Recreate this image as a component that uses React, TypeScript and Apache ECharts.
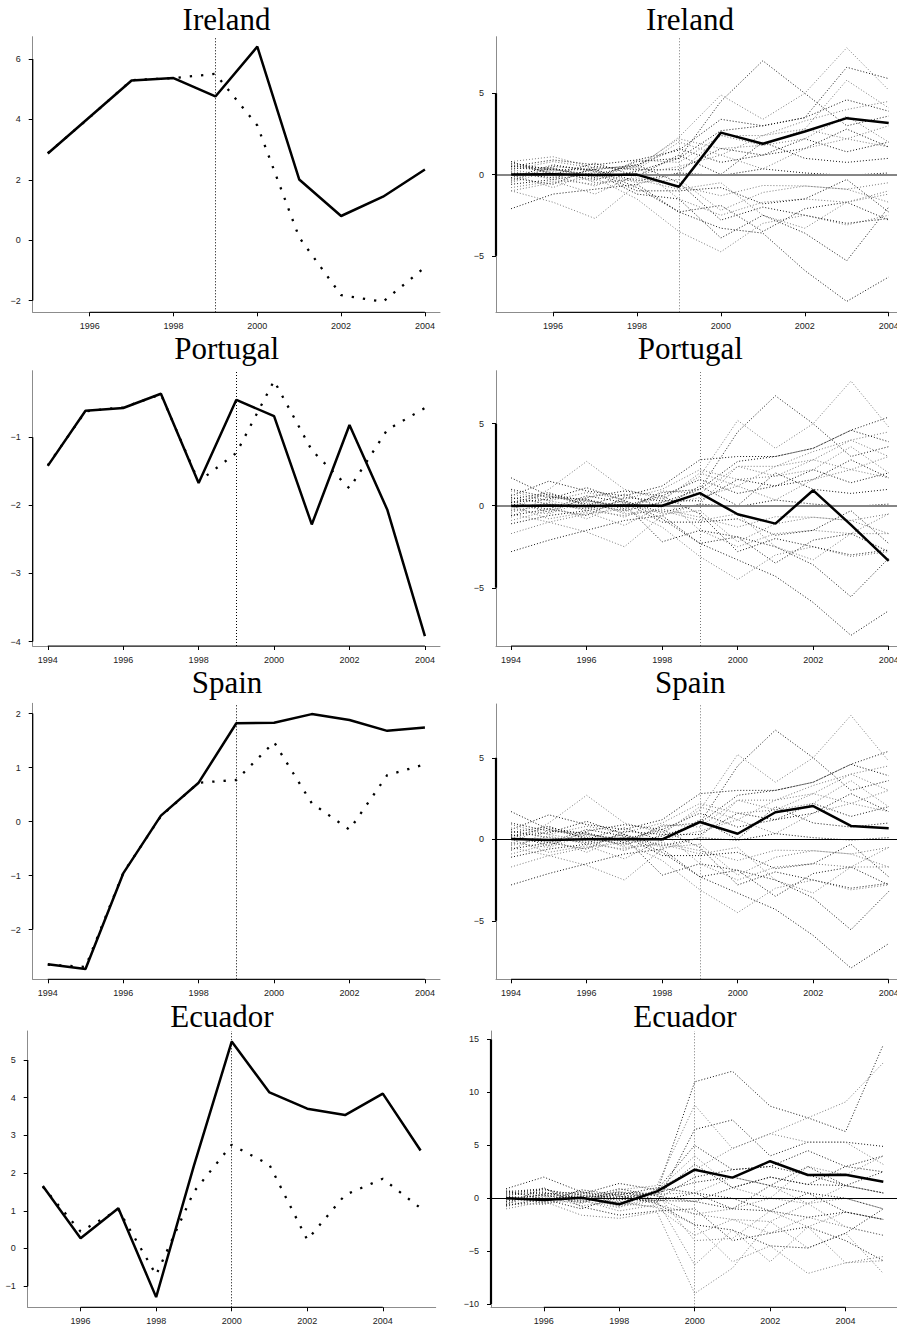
import React, { useEffect, useRef } from "react";
import * as echarts from "echarts";

// ---------- categories ----------
const irelandYears = [1995, 1996, 1997, 1998, 1999, 2000, 2001, 2002, 2003, 2004];
const iberiaYears = [1994, 1995, 1996, 1997, 1998, 1999, 2000, 2001, 2002, 2003, 2004];
const ecuadorYears = [1995, 1996, 1997, 1998, 1999, 2000, 2001, 2002, 2003, 2004, 2005];

// ---------- left panels: actual (solid) vs synthetic (dotted) ----------
const irelandActual = [2.87, 4.08, 5.29, 5.37, 4.76, 6.41, 2.01, 0.8, 1.44, 2.34];
const irelandSynthetic = [2.88, 4.07, 5.3, 5.37, 5.51, 3.8, 0.09, -1.82, -2.04, -0.9];
const portugalActual = [-1.42, -0.61, -0.57, -0.36, -1.67, -0.45, -0.69, -2.28, -0.82, -2.06, -3.92];
const portugalSynthetic = [-1.41, -0.62, -0.56, -0.37, -1.65, -1.23, -0.17, -1.19, -1.75, -0.89, -0.57];
const spainActual = [-2.64, -2.73, -0.96, 0.11, 0.72, 1.82, 1.83, 1.99, 1.88, 1.68, 1.74];
const spainSynthetic = [-2.65, -2.69, -0.95, 0.1, 0.72, 0.77, 1.47, 0.34, -0.15, 0.86, 1.06];
const ecuadorActual = [1.66, 0.27, 1.07, -1.29, 2.2, 5.49, 4.14, 3.71, 3.54, 4.11, 2.6];
const ecuadorSynthetic = [1.64, 0.45, 1.03, -0.7, 1.51, 2.75, 2.22, 0.23, 1.42, 1.85, 1.07];

// ---------- right panels: gap of treated unit (bold) ----------
const irelandGap = [0.0, 0.02, -0.02, 0.0, -0.75, 2.58, 1.9, 2.65, 3.47, 3.17];
const portugalGap = [-0.01, 0.01, -0.01, 0.01, 0.0, 0.77, -0.52, -1.09, 0.94, -1.17, -3.36];
const spainGap = [0.02, -0.05, 0.0, 0.01, 0.0, 1.06, 0.34, 1.66, 2.04, 0.82, 0.68];
const ecuadorGap = [0.0, -0.17, 0.05, -0.57, 0.65, 2.7, 1.95, 3.5, 2.2, 2.22, 1.55];

// ---------- right panels: placebo gaps (dotted) ----------
const irelandPlacebos = [
  [0.6, 0.1, -0.3, 0.2, 1.0, 4.5, 7.0, 5.0, 3.0, 3.6],
  [0.8, 1.1, 0.4, 0.4, 2.3, 4.9, 3.4, 5.0, 7.8, 5.2],
  [0.5, 0.9, 0.6, 0.9, 1.5, 3.4, 3.0, 3.5, 6.6, 5.9],
  [-1.0, -1.7, -2.7, -0.6, 0.1, 2.4, 2.4, 2.8, 5.8, 4.1],
  [-2.1, -1.2, -0.9, -0.6, -2.3, -3.3, -3.6, -5.9, -7.8, -6.3],
  [-1.0, -0.5, -0.2, -1.5, -3.5, -4.75, -3.0, -2.5, -3.1, -2.5],
  [-0.6, -0.3, 0.1, -1.2, -1.5, -3.9, -2.5, -3.6, -5.3, -2.0],
  [0.3, 0.8, 0.4, 0.5, 2.2, 1.6, 1.8, 2.2, 3.6, 2.0],
  [-0.4, 0.5, 0.3, 0.6, 1.6, 0.75, 1.2, 1.6, 2.8, 1.7],
  [0.2, -0.3, -0.6, -0.2, -0.7, -1.3, -0.67, -0.7, -0.9, -0.5],
  [0.4, 0.3, 0.3, -0.4, 0.1, -0.06, 0.35, 0.1, -0.05, 0.1],
  [-0.5, 0.3, -0.1, 0.5, -1.5, -2.5, -1.7, -1.5, -1.7, -1.0],
  [0.1, -0.2, 0.3, -0.8, -2.3, -1.9, -3.5, -2.1, -1.7, -2.8],
  [0.6, 0.2, -0.4, 0.9, 0.75, 2.4, 1.8, 2.8, 2.2, 3.0],
  [-0.2, -0.6, 0.5, 0.3, 0.3, 1.6, 1.2, 2.2, 1.4, 2.0],
  [-0.3, 0.4, -0.5, -0.3, -0.9, -0.5, -2.5, -3.3, -1.7, -1.2],
  [0.8, 0.0, 0.7, -0.1, 1.2, 0.0, 2.0, 1.0, 0.75, 1.0],
  [0.0, -0.8, 0.2, -0.5, -0.3, -2.2, -1.1, -0.7, -0.9, -1.7],
  [0.5, 0.4, -0.2, 0.8, 1.0, 2.7, 3.0, 3.5, 4.6, 3.9],
  [-0.8, -0.4, -1.2, 0.0, 0.5, 1.2, 0.35, 1.6, 2.2, 1.7],
  [-0.2, 0.6, 0.2, -1.0, -1.0, -0.8, -1.8, -1.5, -0.3, -2.3],
  [0.3, -0.1, -0.7, 0.3, 2.0, 1.2, 2.4, 3.3, 4.0, 4.5],
  [0.7, 0.3, 0.0, 0.6, -0.5, -2.8, -2.0, -2.5, -3.0, -2.7],
];

const iberiaPlacebos = [
  [1.7, 0.6, 0.1, -0.3, 0.2, 1.0, 4.5, 6.7, 5.0, 3.0, 3.6],
  [-0.3, 1.0, 2.7, 1.0, 0.4, 1.8, 5.2, 3.5, 5.0, 7.6, 4.8],
  [0.6, 1.5, 0.9, 0.6, 1.2, 2.8, 3.0, 3.0, 3.5, 4.6, 5.4],
  [-0.5, -1.0, -1.6, -2.5, -0.6, 0.1, 2.4, 2.4, 2.8, 4.0, 3.0],
  [-2.8, -2.1, -1.5, -0.9, -0.6, -2.3, -3.3, -4.3, -5.9, -7.9, -6.4],
  [-1.7, -1.0, -0.5, -0.2, -1.3, -3.1, -4.5, -3.0, -2.5, -3.1, -2.8],
  [-1.1, -0.6, -0.3, 0.1, -2.2, -1.5, -1.9, -2.5, -3.6, -5.55, -3.2],
  [0.9, 0.3, 0.8, 0.4, 1.0, 2.2, 1.6, 1.8, 2.2, 3.6, 2.0],
  [0.3, -0.4, 0.5, 0.9, 0.6, 1.6, 0.75, 1.2, 1.6, 2.8, 1.7],
  [-0.4, 0.2, -0.3, -0.6, -0.2, -0.7, -1.3, -0.67, -0.7, -0.9, -0.5],
  [0.2, 0.4, 1.1, 0.3, -0.4, 0.1, -0.06, 0.35, 0.1, -0.05, 0.1],
  [-0.2, -0.5, 0.3, -0.1, 0.5, -1.5, -2.5, -1.7, -1.5, -1.7, -1.7],
  [0.5, 0.1, -0.2, 0.3, -0.8, -2.3, -1.9, -3.5, -2.1, -1.7, -2.8],
  [-0.7, 0.6, 0.2, -0.4, 0.9, 0.75, 2.4, 1.8, 2.8, 2.2, 3.0],
  [0.1, -0.2, -0.6, 0.5, 0.3, 0.3, 1.6, 1.2, 2.2, 1.4, 2.0],
  [-0.9, -0.3, 0.4, -0.5, -0.3, -0.9, -0.5, -2.5, -3.3, -1.7, -0.5],
  [0.4, 0.8, 0.0, 0.7, -0.1, 1.2, 0.0, 2.0, 1.0, 0.75, 1.0],
  [-0.3, 0.0, -0.8, 0.2, -0.5, -0.3, -2.2, -1.1, -0.7, -0.9, -1.7],
  [1.0, 0.5, 0.4, -0.2, 0.8, 1.0, 2.7, 3.0, 3.5, 4.6, 3.9],
  [0.0, -0.8, -0.4, -1.2, 0.0, 0.5, 1.2, 0.35, 1.6, 2.2, 1.7],
  [-0.6, -0.2, 0.6, 0.2, -1.0, -1.0, -0.8, -1.8, -1.5, -0.3, -2.3],
  [0.7, 0.3, -0.1, -0.7, 0.3, 2.0, 1.2, 2.4, 3.3, 4.0, 4.5],
  [0.2, 0.7, 0.3, 0.0, 0.6, -0.5, -2.8, -2.0, -2.5, -3.0, -2.7],
];

const ecuadorPlacebos = [
  [0.5, 0.8, 0.3, -0.2, 0.6, 11.0, 12.0, 8.7, 7.6, 6.3, 14.5],
  [-0.3, 0.4, -0.5, 0.8, 1.2, 8.8, 4.7, 6.1, 7.6, 9.1, 12.8],
  [0.9, 2.0, 0.6, 0.2, -0.4, 6.5, 7.4, 4.0, 5.3, 5.3, 4.9],
  [-1.0, -0.3, -1.6, -1.9, -1.3, -9.0, -6.6, -2.2, -4.7, -3.3, -7.1],
  [0.2, -0.2, 0.4, 1.4, 0.8, 5.0, 2.7, 3.0, 4.5, 3.0, 4.0],
  [-0.6, -0.5, 0.1, -0.8, -0.2, -6.3, -3.0, -6.0, -2.7, -6.1, -5.9],
  [0.4, 0.6, -0.3, 0.5, 0.3, 3.2, 1.0, 2.0, 1.3, 1.2, 2.5],
  [-0.2, 0.1, 0.5, -0.5, -0.8, -2.5, -6.0, -4.5, -7.1, -6.1, -5.5],
  [0.7, -0.1, 0.2, 0.1, 0.5, 1.5, 2.0, 1.2, 3.0, 1.2, 0.5],
  [-0.5, 0.3, -0.2, -1.2, -0.6, -1.5, -1.0, 0.0, -0.5, 0.0, -1.0],
  [0.1, -0.4, 0.8, 0.3, 1.0, 0.5, 0.0, -1.2, 0.5, -1.3, -2.0],
  [-0.8, 0.2, -0.7, -0.3, -0.9, -3.5, -2.0, -3.3, -1.8, -2.7, -3.5],
  [0.3, 0.5, 0.0, 0.9, 0.2, -0.3, 1.0, 2.0, 1.3, 3.0, 2.5],
  [-0.4, -0.6, 0.3, -0.4, 0.4, -4.0, -3.8, -1.2, -2.7, -1.3, -2.0],
  [0.6, 0.9, -0.1, 0.6, -0.1, 2.0, 2.7, 3.0, 2.2, 1.2, 0.5],
  [-0.1, -0.2, 0.1, -0.7, 0.0, -1.5, -2.0, -2.2, -0.5, -2.7, -3.5],
  [0.0, 0.3, -0.4, 0.4, -0.3, 0.5, -1.0, 1.2, 0.5, 0.0, -1.0],
  [0.8, 0.2, 0.5, 0.0, 0.7, 4.0, 1.0, 0.0, 3.0, 2.2, 4.0],
  [-0.7, -0.1, -1.0, 0.2, -0.5, -2.5, -3.0, -4.5, -4.7, -3.3, -1.0],
  [0.3, -0.3, 0.2, 0.6, 0.4, 0.5, 2.0, 1.2, -0.5, 1.2, 0.5],
  [-0.3, 0.4, 0.6, -0.1, -0.2, -0.3, -1.0, -1.2, -1.8, -1.3, -2.0],
  [0.1, -0.5, -0.2, -0.9, 0.9, 2.7, 4.7, 6.1, 5.3, 5.3, 3.2],
  [-0.6, 1.0, -0.8, -1.6, -1.2, -1.0, -4.0, -3.3, -2.7, -4.0, -5.9],
];

// ---------- tick labels ----------
const ticksEvenFrom1996 = [1996, 1998, 2000, 2002, 2004];
const ticksEvenFrom1994 = [1994, 1996, 1998, 2000, 2002, 2004];
const irelandLeftYTicks = [-2, 0, 2, 4, 6];
const portugalLeftYTicks = [-4, -3, -2, -1];
const spainLeftYTicks = [-2, -1, 0, 1, 2];
const ecuadorLeftYTicks = [-1, 0, 1, 2, 3, 4, 5];
const gapYTicks = [-5, 0, 5];
const ecuadorGapYTicks = [-10, -5, 0, 5, 10, 15];

type Panel = {
  title: string;
  kind: "left" | "right";
  grid: [number, number, number, number];
  titlePos: [number, number];
  years: number[];
  xRange: [number, number];
  yRange: [number, number];
  xTicks: number[];
  yTicks: number[];
  treat: number;
  actual?: number[];
  synthetic?: number[];
  gap?: number[];
  placebos?: number[][];
  zeroStyle?: { color: string; width: number };
};

const panels: Panel[] = [
  {
    title: "Ireland", kind: "left", grid: [32.7, 36.7, 407.3, 275.6], titlePos: [226.5, 19.3],
    years: irelandYears, xRange: [1994.64, 2004.36], yRange: [-2.39, 6.74],
    xTicks: ticksEvenFrom1996, yTicks: irelandLeftYTicks, treat: 1999,
    actual: irelandActual, synthetic: irelandSynthetic,
  },
  {
    title: "Ireland", kind: "right", grid: [496, 36.7, 407.8, 275.6], titlePos: [690, 19.3],
    years: irelandYears, xRange: [1994.64, 2004.36], yRange: [-8.47, 8.48],
    xTicks: ticksEvenFrom1996, yTicks: gapYTicks, treat: 1999,
    gap: irelandGap, placebos: irelandPlacebos, zeroStyle: { color: "#858585", width: 1.8 },
  },
  {
    title: "Portugal", kind: "left", grid: [32.7, 370.7, 407.3, 275.3], titlePos: [226.7, 348.3],
    years: iberiaYears, xRange: [1993.6, 2004.4], yRange: [-4.065, -0.022],
    xTicks: ticksEvenFrom1994, yTicks: portugalLeftYTicks, treat: 1999,
    actual: portugalActual, synthetic: portugalSynthetic,
  },
  {
    title: "Portugal", kind: "right", grid: [496, 370.7, 407.8, 275.3], titlePos: [690.3, 348.3],
    years: iberiaYears, xRange: [1993.6, 2004.4], yRange: [-8.55, 8.23],
    xTicks: ticksEvenFrom1994, yTicks: gapYTicks, treat: 1999,
    gap: portugalGap, placebos: iberiaPlacebos, zeroStyle: { color: "#858585", width: 1.8 },
  },
  {
    title: "Spain", kind: "left", grid: [32.7, 703.3, 407.3, 276], titlePos: [227, 682.3],
    years: iberiaYears, xRange: [1993.6, 2004.4], yRange: [-2.92, 2.19],
    xTicks: ticksEvenFrom1994, yTicks: spainLeftYTicks, treat: 1999,
    actual: spainActual, synthetic: spainSynthetic,
  },
  {
    title: "Spain", kind: "right", grid: [496, 704, 407.8, 275.3], titlePos: [690.2, 682.3],
    years: iberiaYears, xRange: [1993.6, 2004.4], yRange: [-8.59, 8.3],
    xTicks: ticksEvenFrom1994, yTicks: gapYTicks, treat: 1999,
    gap: spainGap, placebos: iberiaPlacebos, zeroStyle: { color: "#000", width: 1 },
  },
  {
    title: "Ecuador", kind: "left", grid: [27.7, 1031, 408, 276.3], titlePos: [222, 1016],
    years: ecuadorYears, xRange: [1994.6, 2005.4], yRange: [-1.56, 5.77],
    xTicks: ticksEvenFrom1996, yTicks: ecuadorLeftYTicks, treat: 2000,
    actual: ecuadorActual, synthetic: ecuadorSynthetic,
  },
  {
    title: "Ecuador", kind: "right", grid: [491, 1031, 407.4, 276.3], titlePos: [685, 1016],
    years: ecuadorYears, xRange: [1994.6, 2005.4], yRange: [-10.3, 15.8],
    xTicks: ticksEvenFrom1996, yTicks: ecuadorGapYTicks, treat: 2000,
    gap: ecuadorGap, placebos: ecuadorPlacebos, zeroStyle: { color: "#000", width: 1 },
  },
];

const labelFont = "Liberation Sans";
const fmtNum = (v: number) => (v < 0 ? "\u2212" + String(Math.abs(v)) : String(v));

function buildOption() {
  const grid: any[] = [];
  const xAxis: any[] = [];
  const yAxis: any[] = [];
  const series: any[] = [];
  const graphic: any[] = [];

  panels.forEach((p, i) => {
    grid.push({ left: p.grid[0], top: p.grid[1], width: p.grid[2], height: p.grid[3], containLabel: false });
    xAxis.push({
      type: "value", gridIndex: i, min: p.xRange[0], max: p.xRange[1],
      axisLine: { show: true, onZero: false, lineStyle: { color: "#8c8c8c", width: 1 } },
      axisTick: { show: true, customValues: p.xTicks, length: 4, lineStyle: { color: "#000", width: 1 } },
      axisLabel: { show: true, customValues: p.xTicks, margin: 9, fontSize: 9, fontFamily: labelFont, color: "#222", formatter: (v: number) => String(v) },
      splitLine: { show: false },
    });
    yAxis.push({
      type: "value", gridIndex: i, min: p.yRange[0], max: p.yRange[1],
      axisLine: { show: true, onZero: false, lineStyle: { color: "#8c8c8c", width: 1 } },
      axisTick: { show: true, customValues: p.yTicks, length: 4, lineStyle: { color: "#000", width: 1 } },
      axisLabel: { show: true, customValues: p.yTicks, margin: 12, fontSize: 9, fontFamily: labelFont, color: "#222", formatter: (v: number) => fmtNum(v) },
      splitLine: { show: false },
    });

    const pairs = (vals: number[]) => p.years.map((y, k) => [y, vals[k]]);
    const base = { type: "line", xAxisIndex: i, yAxisIndex: i, symbol: "none", silent: true, animation: false };

    if (p.kind === "left") {
      series.push({
        ...base, z: 3, data: [],
        markLine: {
          silent: true, symbol: ["none", "none"], label: { show: false }, animation: false,
          lineStyle: { color: "#000", width: 1, type: [1, 2] },
          data: [{ xAxis: p.treat }],
        },
      });
      series.push({ ...base, z: 4, data: pairs(p.synthetic!), lineStyle: { color: "#000", width: 2.3, type: [2.3, 9], cap: "butt" } });
      series.push({ ...base, z: 5, data: pairs(p.actual!), lineStyle: { color: "#000", width: 2.5, type: "solid" } });
    } else {
      p.placebos!.forEach((vals, k) => {
        series.push({ ...base, z: 2, data: pairs(vals), lineStyle: { color: k % 2 ? "#7a7a7a" : "#141414", width: 1, type: [1, 2] } });
      });
      series.push({
        ...base, z: 3, data: [],
        markLine: {
          silent: true, symbol: ["none", "none"], label: { show: false }, animation: false,
          data: [
            { xAxis: p.treat, lineStyle: { color: "#777", width: 1, type: [1, 2] } },
            { yAxis: 0, lineStyle: { color: p.zeroStyle!.color, width: p.zeroStyle!.width, type: "solid" } },
          ],
        },
      });
      series.push({ ...base, z: 5, data: pairs(p.gap!), lineStyle: { color: "#000", width: 2.5, type: "solid" } });
    }

    // black axis segments between first and last tick (over the grey box)
    const xt = p.xTicks, yt = p.yTicks;
    series.push({
      ...base, z: 6, clip: false,
      data: [[xt[0], p.yRange[0]], [xt[xt.length - 1], p.yRange[0]]],
      lineStyle: { color: "#111", width: 1.2 },
    });
    series.push({
      ...base, z: 6, clip: false,
      data: [[p.xRange[0], yt[0]], [p.xRange[0], yt[yt.length - 1]]],
      lineStyle: { color: "#000", width: p.kind === "right" ? 2.2 : 1.3 },
    });

    graphic.push({
      type: "text", x: p.titlePos[0], y: p.titlePos[1], silent: true,
      style: { text: p.title, fontSize: 31, fontFamily: "Liberation Serif", fill: "#000", align: "center", verticalAlign: "middle" },
    });
  });

  return {
    animation: false,
    backgroundColor: "#fff",
    grid, xAxis, yAxis, series, graphic,
  };
}

export default function App() {
  const ref = useRef<HTMLDivElement>(null);
  useEffect(() => {
    if (!ref.current) return;
    const chart = echarts.init(ref.current, undefined, { renderer: "svg" });
    chart.setOption(buildOption() as any);
    return () => chart.dispose();
  }, []);
  // The drawing area is a little wider than the 897px window so that the right-hand
  // panels run off the page edge, as in the reference; the overflow is simply cut off.
  return (
    <div style={{ position: "fixed", left: 0, top: 0, width: 897, height: 1328, overflow: "hidden", background: "#fff" }}>
      <div ref={ref} style={{ position: "absolute", left: 0, top: 0, width: 912, height: 1328 }} />
    </div>
  );
}
